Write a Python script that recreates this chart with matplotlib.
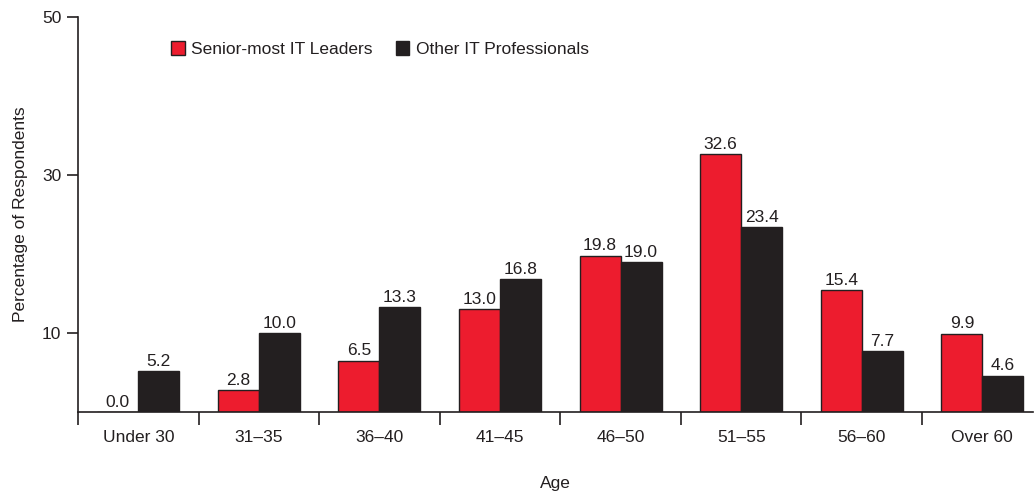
import matplotlib
matplotlib.use("Agg")
import matplotlib.pyplot as plt
import numpy as np

categories = ["Under 30", "31\u201335", "36\u201340", "41\u201345", "46\u201350", "51\u201355", "56\u201360", "Over 60"]
senior = [0.0, 2.8, 6.5, 13.0, 19.8, 32.6, 15.4, 9.9]
other = [5.2, 10.0, 13.3, 16.8, 19.0, 23.4, 7.7, 4.6]
series_names = ["Senior-most IT Leaders", "Other IT Professionals"]
yticks = [10, 30, 50]

plt.rcParams['font.family'] = ['Liberation Sans Narrow', 'Liberation Sans', 'DejaVu Sans']
RED = "#ED1C2E"
BLACK = "#231F20"
TXT = "#231F20"
FS = 12.5

fig = plt.figure(figsize=(10.35, 4.91), dpi=100)
ax = fig.add_axes([78/1035, 79/491, (1033-78)/1035, 395/491])

x = np.arange(len(categories))
w = 0.34
ax.bar(x - w/2, senior, w, color=RED, edgecolor=BLACK, linewidth=1.0, label=series_names[0])
ax.bar(x + w/2, other, w, color=BLACK, edgecolor=BLACK, linewidth=1.0, label=series_names[1])

for xi, v in zip(x - w/2, senior):
    ax.text(xi, v + 0.3, f"{v:.1f}", ha="center", va="bottom", fontsize=FS, color=TXT)
for xi, v in zip(x + w/2, other):
    ax.text(xi, v + 0.3, f"{v:.1f}", ha="center", va="bottom", fontsize=FS, color=TXT)

ax.set_xlim(-0.5, 7.42)
ax.set_ylim(0, 50)
ax.spines['top'].set_visible(False)
ax.spines['right'].set_visible(False)
for s in ['left', 'bottom']:
    ax.spines[s].set_color(BLACK)
    ax.spines[s].set_linewidth(1.2)

ax.set_yticks(yticks)
ax.set_yticklabels([str(t) for t in yticks], fontsize=FS, color=TXT)
ax.tick_params(axis='y', direction='out', length=8, width=1.2, color=BLACK, pad=4)

ax.set_xticks(np.arange(-0.5, 7.5, 1.0))
ax.set_xticklabels([])
ax.set_xticks(x, minor=True)
ax.set_xticklabels(categories, minor=True, fontsize=FS, color=TXT)
ax.tick_params(axis='x', which='major', direction='out', length=9, width=1.2, color=BLACK)
ax.tick_params(axis='x', which='minor', length=0, pad=13)

ax.set_ylabel("Percentage of Respondents", fontsize=FS, color=TXT, labelpad=10)
ax.set_xlabel("Age", fontsize=FS, color=TXT, labelpad=22)

leg = ax.legend(loc="upper left", bbox_to_anchor=(77/955, 0.978), ncol=2, frameon=False,
                fontsize=FS, handlelength=0.8, handleheight=0.8, handletextpad=0.4,
                columnspacing=1.3)
for t in leg.get_texts():
    t.set_color(TXT)

fig.savefig("out.png", dpi=100)
